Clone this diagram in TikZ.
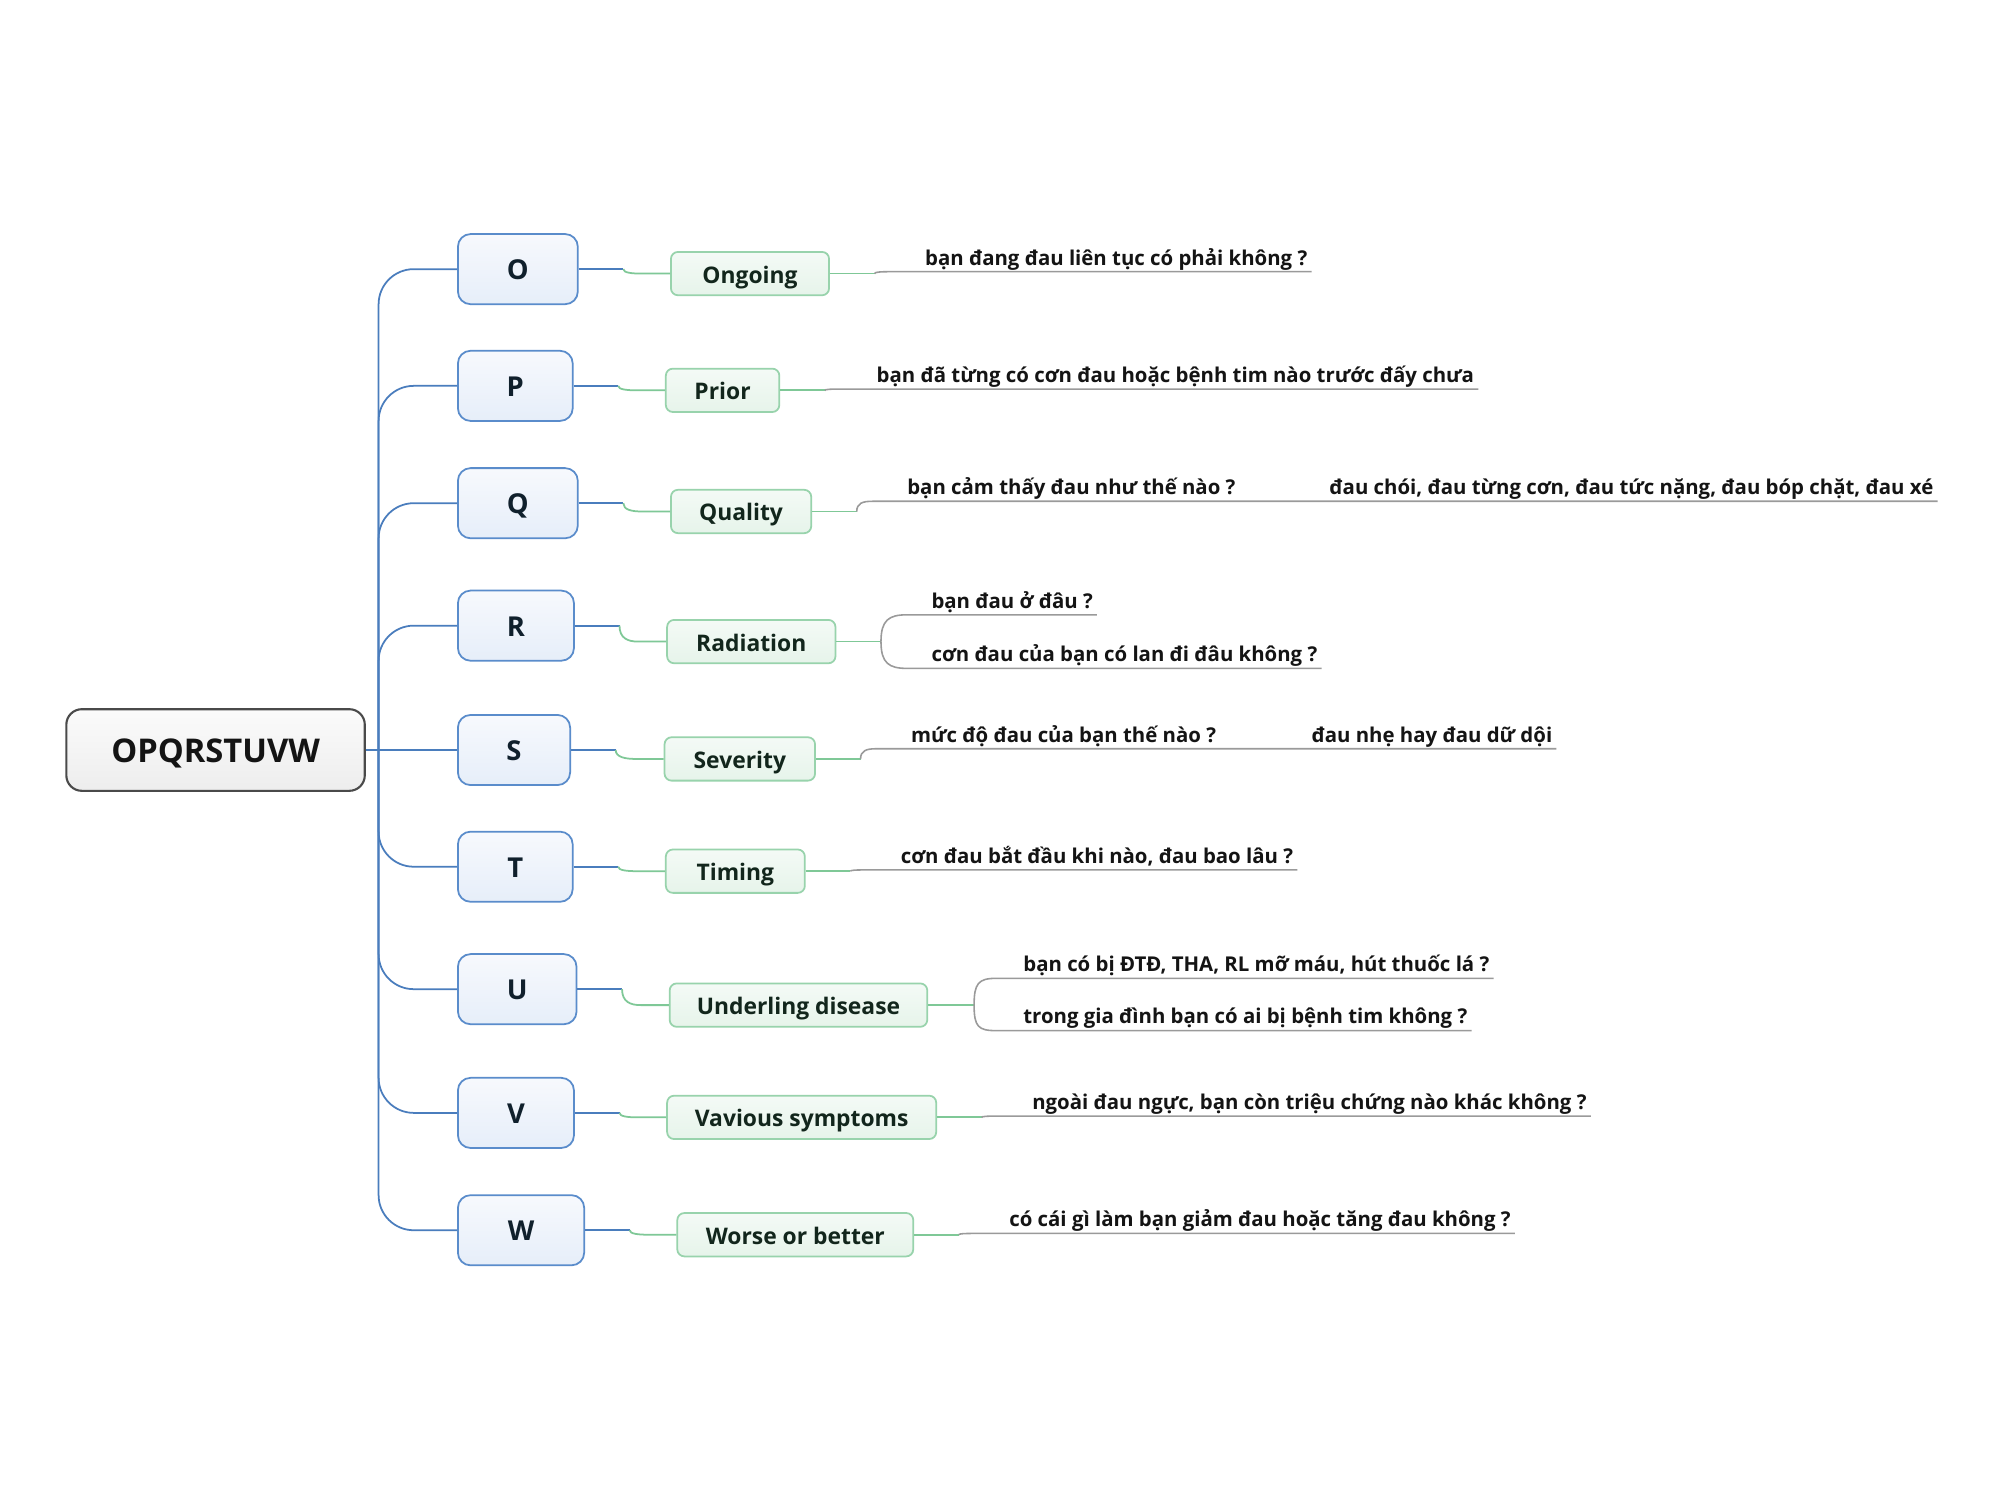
\documentclass[tikz,border=0pt]{standalone}
\usepackage{fontspec}
\setmainfont{Open Sans}
\usetikzlibrary{calc}
\def\px{0.36291pt}
\definecolor{bl}{HTML}{4A7DBD}
\definecolor{lboxb}{HTML}{5A8CCB}
\definecolor{lboxt}{HTML}{F7F9FD}
\definecolor{lboxbt}{HTML}{E6EEF9}
\definecolor{gboxb}{HTML}{98D3AC}
\definecolor{gboxt}{HTML}{F4FAF6}
\definecolor{gboxbt}{HTML}{E6F4EA}
\definecolor{gl}{HTML}{7FC897}
\definecolor{ul}{HTML}{9A9A9A}
\definecolor{rootb}{HTML}{4A4A4A}
\definecolor{roott}{HTML}{FBFBFB}
\definecolor{rootbt}{HTML}{EDEDED}
\definecolor{ink}{HTML}{10202C}
\definecolor{gink}{HTML}{12261C}
\definecolor{qink}{HTML}{141414}
\tikzset{
  lbox/.style={draw=lboxb, line width=0.5pt, rounded corners=3.6pt, top color=lboxt, bottom color=lboxbt,
    minimum height=55*\px, inner sep=0pt, text height=5.9pt, text depth=0pt,
    font=\fontsize{7.8}{9}\selectfont\bfseries, text=ink},
  gbox/.style={draw=gboxb, line width=0.5pt, rounded corners=2pt, top color=gboxt, bottom color=gboxbt,
    minimum height=34*\px, inner sep=0pt, text height=5.4pt, text depth=0pt,
    font=\fontsize{6.5}{8}\selectfont\bfseries, text=gink},
  rootbox/.style={draw=rootb, line width=0.6pt, rounded corners=4.4pt, top color=roott, bottom color=rootbt,
    minimum width=234*\px, minimum height=64*\px, inner sep=0pt, text height=7.2pt, text depth=0pt,
    font=\fontsize{9.3}{11}\selectfont\bfseries, text=qink},
  qtext/.style={anchor=south west, inner xsep=1pt, inner ysep=0.6pt, text height=4.5pt, text depth=1.1pt,
    font=\fontsize{5.8}{7}\selectfont\bfseries, text=qink},
  bline/.style={draw=bl, line width=0.5pt},
  gline/.style={draw=gl, line width=0.5pt},
  uline/.style={draw=ul, line width=0.45pt},
}
\newcommand\lgconn[2]{%
  \draw[bline] (#1.east) -- ++(35,0) coordinate (#1c);
  \draw[gline] (#1c) .. controls ($(#1c)!0.8!(#1c |- #2.west)$) and ($(#2.west)+(-30,0)$) .. ($(#2.west)+(-22,0)$) -- (#2.west);}
\newcommand\gtconn[3]{%
  \draw[gline] (#1.east) -- ++(35,0) coordinate (#1c);
  \draw[uline] (#1c) .. controls ($(#1c)!0.8!(#1c |- #2.south west)$) and ($(#2.south west)+(-32,0)$) .. ($(#2.south west)+(-24,0)$) -- (#3.south east);}
\begin{document}
\begin{tikzpicture}[x=0.0127551cm, y=-0.0127551cm]
\fill[white] (0,0) rectangle (1568,1176);
\useasboundingbox (0,0) rectangle (1568,1176);

% root
\node[rootbox] (root) at (169,588) {OPQRSTUVW};

% letter boxes
\node[lbox, minimum width=94*\px] (O) at (406,211) {O};
\node[lbox, minimum width=90*\px] (P) at (404,302.5) {P};
\node[lbox, minimum width=94*\px] (Q) at (406,394.5) {Q};
\node[lbox, minimum width=91*\px] (R) at (404.5,490.5) {R};
\node[lbox, minimum width=88*\px] (S) at (403,588) {S};
\node[lbox, minimum width=90*\px] (T) at (404,679.5) {T};
\node[lbox, minimum width=93*\px] (U) at (405.5,775.5) {U};
\node[lbox, minimum width=91*\px] (V) at (404.5,872.5) {V};
\node[lbox, minimum width=99*\px] (W) at (408.5,964.5) {W};

% green boxes
\node[gbox, minimum width=124*\px] (Og) at (588,214.5) {Ongoing};
\node[gbox, minimum width=89*\px] (Pg) at (566.5,306) {Prior};
\node[gbox, minimum width=110*\px] (Qg) at (581,401) {Quality};
\node[gbox, minimum width=132*\px] (Rg) at (589,503) {Radiation};
\node[gbox, minimum width=118*\px] (Sg) at (580,595) {Severity};
\node[gbox, minimum width=109*\px] (Tg) at (576.5,683) {Timing};
\node[gbox, minimum width=202*\px] (Ug) at (626,788) {Underling disease};
\node[gbox, minimum width=211*\px] (Vg) at (628.5,876) {Vavious symptoms};
\node[gbox, minimum width=185*\px] (Wg) at (623.5,968) {Worse or better};

% texts
\node[qtext] (O1) at (722,213) {bạn đang đau liên tục có phải không ?};
\node[qtext] (P1) at (684,305) {bạn đã từng có cơn đau hoặc bệnh tim nào trước đấy chưa};
\node[qtext] (Q1) at (708,393) {bạn cảm thấy đau như thế nào ?};
\node[qtext] (Q2) at (1039,393) {đau chói, đau từng cơn, đau tức nặng, đau bóp chặt, đau xé};
\node[qtext] (R1) at (727,482) {bạn đau ở đâu ?};
\node[qtext] (R2) at (727,524) {cơn đau của bạn có lan đi đâu không ?};
\node[qtext] (S1) at (711,587) {mức độ đau của bạn thế nào ?};
\node[qtext] (S2) at (1025,587) {đau nhẹ hay đau dữ dội};
\node[qtext] (T1) at (703,682) {cơn đau bắt đầu khi nào, đau bao lâu ?};
\node[qtext] (U1) at (799,767) {bạn có bị ĐTĐ, THA, RL mỡ máu, hút thuốc lá ?};
\node[qtext] (U2) at (799,808) {trong gia đình bạn có ai bị bệnh tim không ?};
\node[qtext] (V1) at (806,875) {ngoài đau ngực, bạn còn triệu chứng nào khác không ?};
\node[qtext] (W1) at (788,967) {có cái gì làm bạn giảm đau hoặc tăng đau không ?};

% trunk
\coordinate (hub) at ($(root.east)+(10,0)$);
\draw[bline] (root.east) -- (S.west);
\foreach \n in {O,P,Q,R,T,U,V,W}
  \draw[bline, rounded corners=10pt] (hub) |- (\n.west);

% letter -> green
\lgconn{O}{Og}
\lgconn{P}{Pg}
\lgconn{Q}{Qg}
\lgconn{R}{Rg}
\lgconn{S}{Sg}
\lgconn{T}{Tg}
\lgconn{U}{Ug}
\lgconn{V}{Vg}
\lgconn{W}{Wg}

% green -> texts
\gtconn{Og}{O1}{O1}
\gtconn{Pg}{P1}{P1}
\gtconn{Qg}{Q1}{Q2}
\gtconn{Sg}{S1}{S2}
\gtconn{Tg}{T1}{T1}
\gtconn{Vg}{V1}{V1}
\gtconn{Wg}{W1}{W1}

% radiation brace
\draw[gline] (Rg.east) -- ++(35,0) coordinate (Rgc);
\draw[uline] (Rgc) .. controls +(0,-17) and +(-14,0) .. ($(R1.south west)+(-16,0)$) -- (R1.south east);
\draw[uline] (Rgc) .. controls +(0,17) and +(-14,0) .. ($(R2.south west)+(-16,0)$) -- (R2.south east);

% underling brace
\draw[gline] (Ug.east) -- ++(36,0) coordinate (Ugc);
\draw[uline] (Ugc) .. controls +(0,-17) and +(-14,0) .. ($(U1.south west)+(-18,0)$) -- (U1.south east);
\draw[uline] (Ugc) .. controls +(0,17) and +(-14,0) .. ($(U2.south west)+(-18,0)$) -- (U2.south east);
\end{tikzpicture}
\end{document}
